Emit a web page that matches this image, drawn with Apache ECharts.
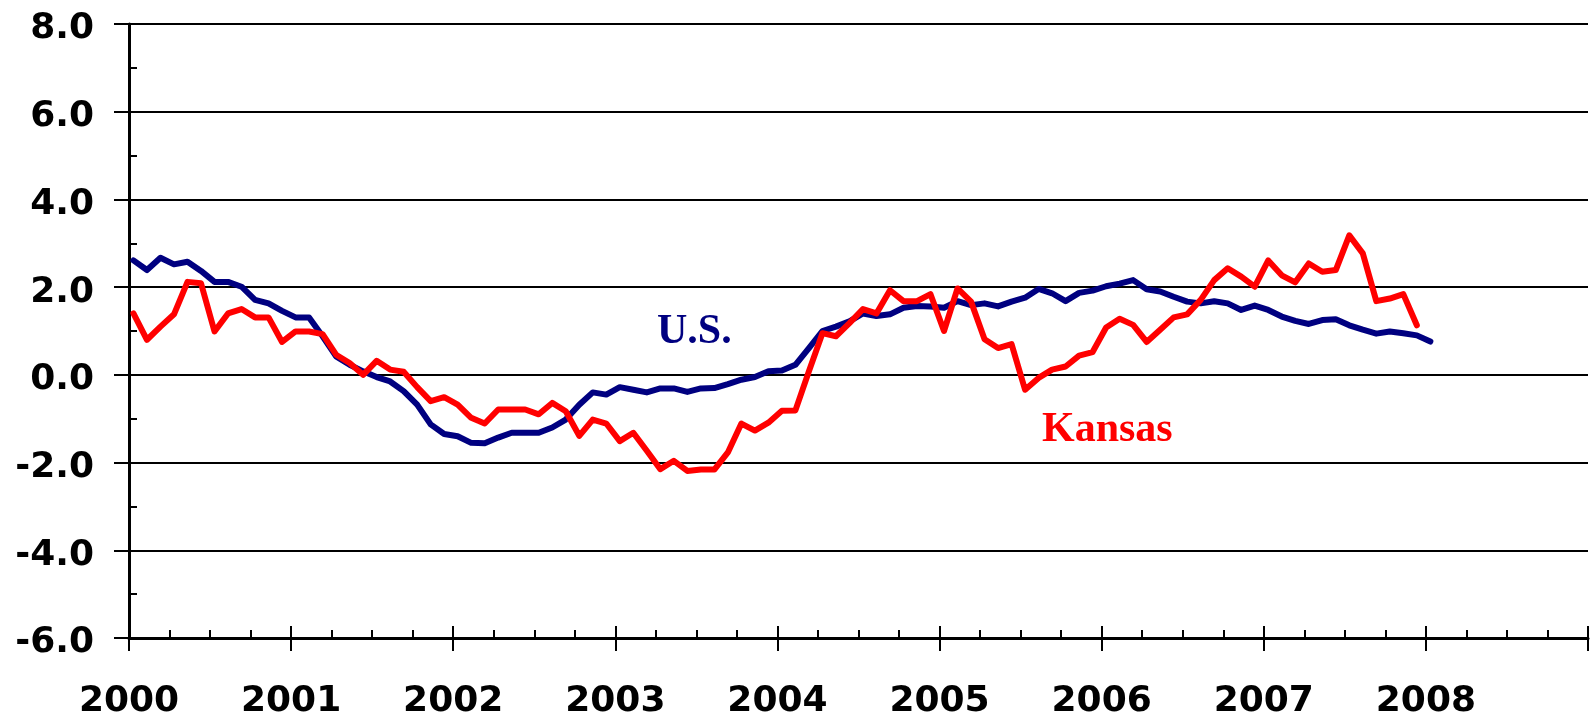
<!DOCTYPE html>
<html>
<head>
<meta charset="utf-8">
<script src="https://cdn.jsdelivr.net/npm/echarts@6/dist/echarts.min.js"></script>
<style>
    html, body { margin: 0; padding: 0; background: #fff; }
    #chart { width: 1591px; height: 720px; }
</style>
</head>
<body>
<div id="chart"></div>
<script>
    // monthly values, Jan 2000 onwards (percent change)
    var usValues = [
        2.61, 2.39, 2.67, 2.52, 2.58, 2.37, 2.12, 2.12, 2.01, 1.71, 1.63, 1.46,
        1.31, 1.31, 0.88, 0.42, 0.23, 0.08, -0.05, -0.15, -0.37, -0.68, -1.13, -1.35,
        -1.40, -1.55, -1.56, -1.43, -1.32, -1.32, -1.32, -1.20, -1.02, -0.68, -0.40, -0.45,
        -0.28, -0.34, -0.40, -0.31, -0.31, -0.39, -0.31, -0.30, -0.21, -0.11, -0.05, 0.08,
        0.10, 0.23, 0.61, 1.00, 1.10, 1.22, 1.40, 1.34, 1.38, 1.53, 1.57, 1.56,
        1.53, 1.68, 1.59, 1.63, 1.56, 1.67, 1.76, 1.96, 1.86, 1.68, 1.87, 1.92,
        2.02, 2.08, 2.16, 1.95, 1.90, 1.78, 1.67, 1.63, 1.68, 1.63, 1.48, 1.58,
        1.48, 1.33, 1.23, 1.16, 1.25, 1.27, 1.13, 1.03, 0.94, 0.99, 0.95, 0.90,
        0.76
    ];
    var kansasValues = [
        1.40, 0.80, 1.10, 1.38, 2.12, 2.09, 0.99, 1.40, 1.50, 1.31, 1.31, 0.75,
        0.99, 0.99, 0.93, 0.46, 0.27, 0.00, 0.32, 0.12, 0.07, -0.28, -0.60, -0.51,
        -0.68, -0.98, -1.11, -0.79, -0.79, -0.79, -0.90, -0.64, -0.83, -1.39, -1.02, -1.11,
        -1.51, -1.32, -1.73, -2.15, -1.96, -2.19, -2.16, -2.16, -1.77, -1.11, -1.27, -1.09,
        -0.82, -0.81, 0.08, 0.95, 0.88, 1.18, 1.50, 1.40, 1.93, 1.68, 1.68, 1.84,
        1.00, 1.97, 1.67, 0.81, 0.61, 0.70, -0.34, -0.07, 0.12, 0.19, 0.44, 0.52,
        1.08, 1.28, 1.14, 0.75, 1.03, 1.31, 1.38, 1.71, 2.16, 2.43, 2.24, 2.01,
        2.61, 2.27, 2.11, 2.54, 2.35, 2.39, 3.18, 2.77, 1.68, 1.74, 1.84, 1.13
    ];
    var startYear = 2000;
    var yearTicks = [2000, 2001, 2002, 2003, 2004, 2005, 2006, 2007, 2008];

    function toSeries(values) {
        return values.map(function (v, i) {
            return [startYear + (i + 0.33) / 12, v];
        });
    }

    var chart = echarts.init(document.getElementById('chart'));

    var font = 'DejaVu Sans';

    chart.setOption({
        animation: false,
        grid: { left: 129, right: 2, top: 24, height: 617 },
        xAxis: [
            {
                type: 'value', min: 2000, max: 2009, interval: 1,
                axisLine: { show: true, onZero: false, lineStyle: { color: '#000', width: 3 } },
                axisTick: { show: true, inside: true, length: 12, lineStyle: { color: '#000', width: 2 } },
                minorTick: { show: true, splitNumber: 4, length: 8, lineStyle: { color: '#000', width: 2 } },
                splitLine: { show: false },
                axisLabel: {
                    margin: 46, color: '#000', fontFamily: font, fontWeight: 'bold', fontSize: 36,
                    formatter: function (v) { return yearTicks.indexOf(v) >= 0 ? String(v) : ''; }
                }
            },
            {
                // second copy of the axis: year ticks that hang below the line
                type: 'value', min: 2000, max: 2009, interval: 1, position: 'bottom',
                axisLine: { show: false, onZero: false },
                axisTick: { show: true, inside: false, length: 13, lineStyle: { color: '#000', width: 2 } },
                axisLabel: { show: false },
                splitLine: { show: false }
            }
        ],
        yAxis: [
            {
                type: 'value', min: -6, max: 8, interval: 2,
                axisLine: { show: true, onZero: false, lineStyle: { color: '#000', width: 3 } },
                axisTick: { show: true, length: 15, lineStyle: { color: '#000', width: 2 } },
                splitLine: { show: true, lineStyle: { color: '#000', width: 2 } },
                axisLabel: {
                    margin: 35, verticalAlign: 'top', lineHeight: 10,
                    color: '#000', fontFamily: font, fontWeight: 'bold', fontSize: 36,
                    formatter: function (v) { return v.toFixed(1); }
                }
            },
            {
                type: 'value', min: -6, max: 8, interval: 2, position: 'left',
                axisLine: { show: false, onZero: false },
                axisTick: { show: false, inside: true },
                minorTick: { show: true, splitNumber: 2, length: 8, lineStyle: { color: '#000', width: 2 } },
                axisLabel: { show: false },
                splitLine: { show: false }
            }
        ],
        series: [
            {
                name: 'U.S.', type: 'line', data: toSeries(usValues),
                showSymbol: false, symbol: 'none',
                lineStyle: { color: '#000080', width: 6, join: 'round', cap: 'round' }
            },
            {
                name: 'Kansas', type: 'line', data: toSeries(kansasValues),
                showSymbol: false, symbol: 'none',
                lineStyle: { color: '#ff0000', width: 6, join: 'round', cap: 'round' }
            }
        ],
        graphic: [
            {
                type: 'text', left: 657, top: 311,
                style: { text: 'U.S.', fill: '#000080', font: 'bold 42px "Liberation Serif"' }
            },
            {
                type: 'text', left: 1042, top: 409,
                style: { text: 'Kansas', fill: '#ff0000', font: 'bold 42px "Liberation Serif"' }
            }
        ]
    });
</script>
</body>
</html>
